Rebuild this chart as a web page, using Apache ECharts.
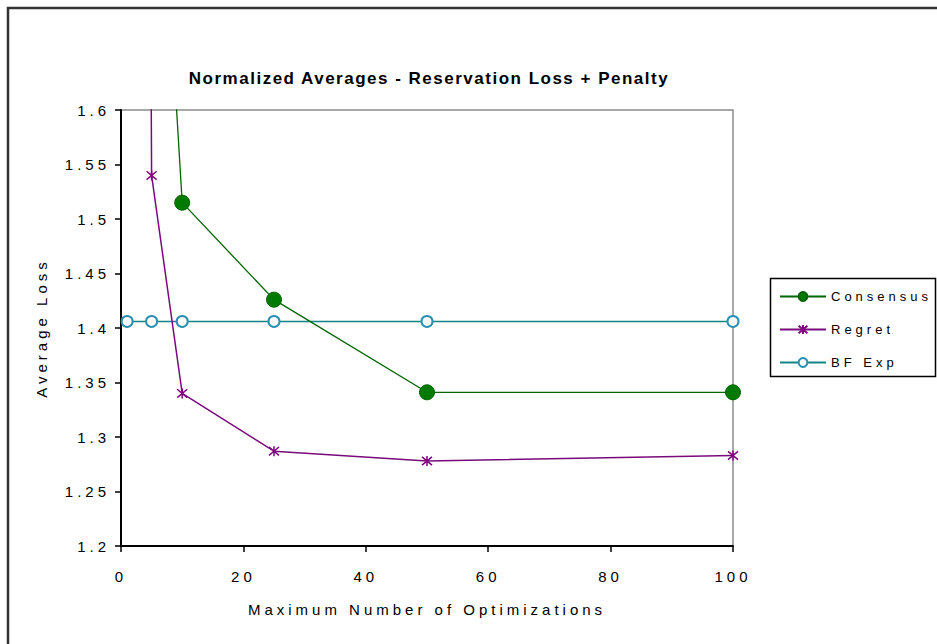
<!DOCTYPE html>
<html>
<head>
<meta charset="utf-8">
<title>Normalized Averages - Reservation Loss + Penalty</title>
<script src="https://cdn.jsdelivr.net/npm/echarts@6/dist/echarts.min.js"></script>
<style>
  html, body { margin: 0; padding: 0; background: #ffffff; }
  #chart { width: 937px; height: 644px; }
</style>
</head>
<body>
<div id="chart"></div>
<script>
// Maximum number of optimizations (x positions of every series)
const optimizations = [1, 5, 10, 25, 50, 100];

// Normalized average loss per strategy
const consensus = [2.4, 1.98, 1.515, 1.426, 1.341, 1.341];
const regret    = [6.0, 1.54, 1.34, 1.287, 1.278, 1.283];
const bfExp     = [1.406, 1.406, 1.406, 1.406, 1.406, 1.406];

// Axis ranges / ticks
const xTicks = { min: 0, max: 100, interval: 20 };
const yTicks = { min: 1.2, max: 1.6, interval: 0.05 };

const pairs = ys => optimizations.map((x, i) => [x, ys[i]]);

const FONT = 'Arial, "Liberation Sans", sans-serif';
const ASTERISK = 'path://M0,0L10,10M10,0L0,10M5,-1L5,11';

const chart = echarts.init(document.getElementById('chart'), null, { renderer: 'svg' });

const option = {
  backgroundColor: '#ffffff',
  animation: false,
  title: {
    text: 'Normalized Averages - Reservation Loss + Penalty',
    left: 424,
    top: 65,
    textAlign: 'center',
    textStyle: { fontFamily: FONT, fontSize: 17, fontWeight: 'bold', color: '#000' }
  },
  grid: {
    left: 121, right: 204, top: 110, bottom: 98,
    show: true, borderColor: '#8a8a8a', borderWidth: 1.5, backgroundColor: 'transparent'
  },
  legend: {
    orient: 'vertical',
    left: 774,
    top: 285,
    itemWidth: 46,
    itemHeight: 11,
    itemGap: 20,
    textStyle: { fontFamily: FONT, fontSize: 13, color: '#000' },
    data: ['Consensus', 'Regret', 'BF Exp']
  },
  xAxis: {
    type: 'value',
    min: xTicks.min, max: xTicks.max, interval: xTicks.interval,
    name: 'Maximum Number of Optimizations',
    nameLocation: 'middle',
    nameGap: 56,
    nameTextStyle: { fontFamily: FONT, fontSize: 15, color: '#000' },
    axisLine: { lineStyle: { color: '#000', width: 2 } },
    axisTick: { show: true, length: 6, lineStyle: { color: '#000', width: 1.5 } },
    axisLabel: { fontFamily: FONT, fontSize: 15, color: '#000', margin: 23 },
    splitLine: { show: false }
  },
  yAxis: {
    type: 'value',
    min: yTicks.min, max: yTicks.max, interval: yTicks.interval,
    name: 'Average Loss',
    nameLocation: 'middle',
    nameGap: 72,
    nameTextStyle: { fontFamily: FONT, fontSize: 15, color: '#000' },
    axisLine: { show: true, lineStyle: { color: '#000', width: 2 } },
    axisTick: { show: true, length: 6, lineStyle: { color: '#000', width: 1.5 } },
    axisLabel: {
      fontFamily: FONT, fontSize: 15, color: '#000', margin: 11,
      formatter: v => String(+v.toFixed(2))
    },
    splitLine: { show: false }
  },
  series: [
    {
      name: 'Consensus',
      type: 'line',
      data: pairs(consensus),
      clip: true,
      symbol: 'circle',
      symbolSize: 15,
      lineStyle: { color: '#006400', width: 1.3 },
      itemStyle: { color: '#007a00', borderColor: '#006400', borderWidth: 1 },
      z: 3
    },
    {
      name: 'Regret',
      type: 'line',
      data: pairs(regret),
      clip: true,
      symbol: ASTERISK,
      symbolSize: 10,
      lineStyle: { color: '#7a0a7a', width: 1.5 },
      itemStyle: { color: '#7a0a7a', borderColor: '#800080', borderWidth: 1.5 },
      z: 3
    },
    {
      name: 'BF Exp',
      type: 'line',
      data: pairs(bfExp),
      clip: true,
      symbol: 'emptyCircle',
      symbolSize: 11,
      lineStyle: { color: '#138585', width: 1.5 },
      itemStyle: { color: '#2a8fb0', borderColor: '#2a8fb0', borderWidth: 1.3 },
      z: 2
    }
  ],
  graphic: [
    {
      type: 'rect',
      shape: { x: 8, y: 8, width: 960, height: 680 },
      style: { fill: 'none', stroke: '#333', lineWidth: 2.5 },
      silent: true
    },
    {
      type: 'rect',
      shape: { x: 770.5, y: 278.5, width: 165, height: 98 },
      style: { fill: 'none', stroke: '#000', lineWidth: 1.5 },
      silent: true
    }
  ]
};

chart.setOption(option);

// Wide tracking on every label, tighter on the bold heading
function applyTracking() {
  document.querySelectorAll('#chart svg text').forEach(t => {
    const cs = getComputedStyle(t);
    const w = cs.fontWeight;
    const bold = w === 'bold' || parseInt(w, 10) >= 600;
    const spacing = bold ? '1.5px' : '4px';
    t.setAttribute('letter-spacing', spacing);
    t.style.letterSpacing = spacing;
  });
}
chart.getZr().flush();
applyTracking();
chart.on('finished', applyTracking);
</script>
</body>
</html>
